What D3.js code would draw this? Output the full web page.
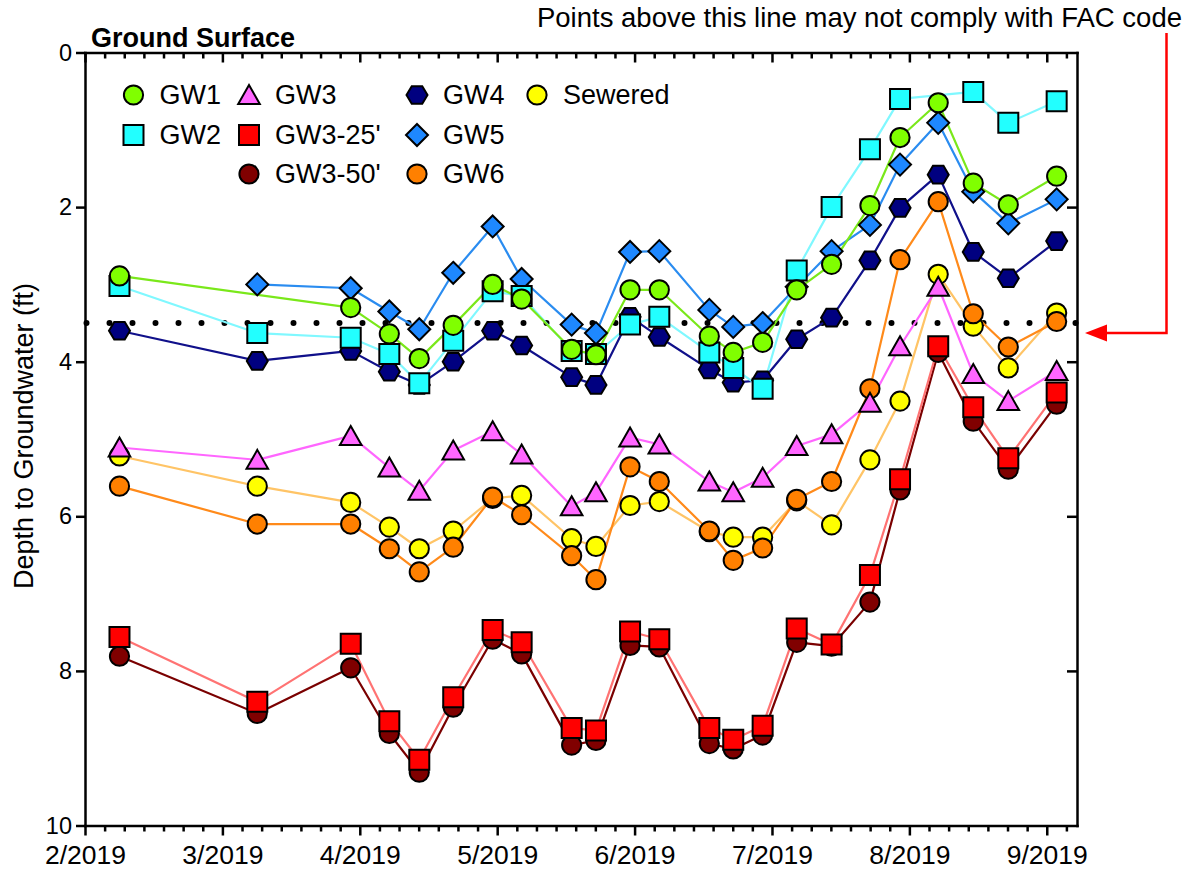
<!DOCTYPE html>
<html>
<head>
<meta charset="utf-8">
<script src="https://cdn.jsdelivr.net/npm/d3@7"></script>
<style>
  body { margin: 0; background: #fff; }
  text { font-family: "Liberation Sans", Arial, Helvetica, sans-serif; fill: #000; }
</style>
</head>
<body>
<svg id="chart" width="1194" height="869"></svg>
<script>
// ---- data -------------------------------------------------------------
// axis month labels (one major tick per label)
const monthLabels = ["2/2019", "3/2019", "4/2019", "5/2019", "6/2019", "7/2019", "8/2019", "9/2019"];
const depthTicks = [0, 2, 4, 6, 8, 10];

// sampling events, in months after the 2/2019 tick
const sampleMonths = [0.251, 1.254, 1.934, 2.215, 2.433, 2.680, 2.967, 3.178, 3.542, 3.719, 3.967,
                      4.180, 4.544, 4.718, 4.932, 5.180, 5.434, 5.713, 5.932, 6.210, 6.465, 6.720, 7.072];

// depth to groundwater (ft) per well, null = not measured
const gw1     = [2.89, null, 3.30, 3.64, 3.96, 3.53, 3.00, 3.19, 3.84, 3.91, 3.07, 3.07, 3.67, 3.88, 3.75, 3.07, 2.74, 1.98, 1.10, 0.65, 1.69, 1.97, 1.60];
const gw2     = [3.02, 3.63, 3.69, 3.90, 4.28, 3.73, 3.09, 3.15, 3.86, 3.90, 3.52, 3.42, 3.88, 4.08, 4.35, 2.82, 2.00, 1.25, 0.60, null, 0.51, 0.91, 0.63];
const gw3     = [5.11, 5.27, 4.96, 5.37, 5.67, 5.15, 4.90, 5.20, 5.87, 5.69, 4.98, 5.07, 5.55, 5.69, 5.50, 5.09, 4.94, 4.53, 3.80, 3.03, 4.16, 4.51, 4.12];
const gw3_25  = [7.56, 8.40, 7.65, 8.65, 9.15, 8.34, 7.47, 7.63, 8.74, 8.77, 7.49, 7.59, 8.74, 8.89, 8.71, 7.45, 7.66, 6.76, 5.52, 3.80, 4.59, 5.25, 4.40];
const gw3_50  = [7.81, 8.55, 7.96, 8.81, 9.31, 8.47, 7.59, 7.78, 8.96, 8.90, 7.67, 7.69, 8.94, 9.01, 8.83, 7.63, 7.68, 7.11, 5.66, 3.88, 4.77, 5.39, 4.55];
const gw4     = [3.60, 3.99, 3.86, 4.13, 4.30, 4.00, 3.60, 3.79, 4.20, 4.30, 3.42, 3.68, 4.10, 4.27, 4.24, 3.71, 3.43, 2.69, 2.01, 1.58, 2.58, 2.92, 2.44];
const gw5     = [null, 3.00, 3.05, 3.35, 3.58, 2.85, 2.25, 2.93, 3.52, 3.63, 2.58, 2.57, 3.33, 3.55, 3.50, 3.03, 2.57, 2.23, 1.45, 0.91, 1.80, 2.21, 1.90];
const gw6     = [5.61, 6.10, 6.10, 6.42, 6.72, 6.40, 5.75, 5.98, 6.51, 6.82, 5.36, 5.55, 6.19, 6.57, 6.41, 5.78, 5.55, 4.35, 2.68, 1.93, 3.38, 3.81, 3.48];
const sewered = [5.22, 5.61, 5.82, 6.14, 6.42, 6.19, 5.77, 5.73, 6.29, 6.39, 5.86, 5.81, 6.20, 6.27, 6.27, 5.80, 6.11, 5.27, 4.51, 2.87, 3.54, 4.08, 3.37];

// compliance threshold depth (ft)
const facThreshold = 3.5;

// ---- marker shapes (size = half extent in px) -------------------------
const shapes = {
  circle:   { draw(c, r) { c.moveTo(r, 0); c.arc(0, 0, r, 0, 2 * Math.PI); } },
  square:   { draw(c, r) { c.rect(-r, -r, 2 * r, 2 * r); } },
  triangle: { draw(c, r) { c.moveTo(0, -r); c.lineTo(r * 1.08, r * 0.9); c.lineTo(-r * 1.08, r * 0.9); c.closePath(); } },
  diamond:  { draw(c, r) { c.moveTo(0, -r); c.lineTo(r, 0); c.lineTo(0, r); c.lineTo(-r, 0); c.closePath(); } },
  hexagon:  { draw(c, r) {
    const h = r * 0.84;
    c.moveTo(r, 0); c.lineTo(r / 2, h); c.lineTo(-r / 2, h); c.lineTo(-r, 0); c.lineTo(-r / 2, -h); c.lineTo(r / 2, -h); c.closePath();
  } }
};

// series in drawing order (bottom first)
const series = [
  { name: "Sewered", values: sewered, fill: "#ffff00", line: "#ffc466", shape: "circle",   size: 9.6 },
  { name: "GW6",     values: gw6,     fill: "#ff8000", line: "#ff8a1a", shape: "circle",   size: 9.6 },
  { name: "GW3-50'", values: gw3_50,  fill: "#800000", line: "#7a0000", shape: "circle",   size: 9.6 },
  { name: "GW3-25'", values: gw3_25,  fill: "#ff0000", line: "#ff7373", shape: "square",   size: 10 },
  { name: "GW3",     values: gw3,     fill: "#ff66ff", line: "#ff66ff", shape: "triangle", size: 10 },
  { name: "GW4",     values: gw4,     fill: "#000080", line: "#10108a", shape: "hexagon",  size: 10.5 },
  { name: "GW5",     values: gw5,     fill: "#1e88ff", line: "#2a8cf0", shape: "diamond",  size: 11 },
  { name: "GW2",     values: gw2,     fill: "#22ffff", line: "#80f8ff", shape: "square",   size: 10 },
  { name: "GW1",     values: gw1,     fill: "#80ff00", line: "#7ae81a", shape: "circle",   size: 9.6 }
];

// legend grid: [series name, column, row]
const legendLayout = [
  ["GW1", 0, 0], ["GW2", 0, 1],
  ["GW3", 1, 0], ["GW3-25'", 1, 1], ["GW3-50'", 1, 2],
  ["GW4", 2, 0], ["GW5", 2, 1], ["GW6", 2, 2],
  ["Sewered", 3, 0]
];

// ---- layout -------------------------------------------------------------
const svg = d3.select("#chart");
const plotLeft = 85, plotRight = 1077, plotTop = 52.5, plotBottom = 825.5;
const xMax = 7.22;

const x = d3.scaleLinear().domain([0, xMax]).range([plotLeft, plotRight]);
const y = d3.scaleLinear().domain([0, 10]).range([plotTop, plotBottom]);

const majorX = d3.range(monthLabels.length);
const minorX = d3.range(0, xMax, 1 / 7).filter(v => Math.abs(v - Math.round(v)) > 1e-6);

function styleAxis(g, fontSize) {
  g.selectAll(".domain").attr("stroke", "#000").attr("stroke-width", 2.5).attr("stroke-linecap", "square");
  g.selectAll(".tick line").attr("stroke", "#000").attr("stroke-width", 2.5);
  g.selectAll(".tick text").attr("font-size", fontSize).attr("fill", "#000");
  g.attr("font-family", null);
}

// bottom axis: labelled months + minor ticks
const axisBottomG = svg.append("g").attr("transform", `translate(0,${plotBottom})`)
  .call(d3.axisBottom(x).tickValues(majorX).tickFormat(i => monthLabels[i]).tickSize(10).tickPadding(9.5).tickSizeOuter(0));
styleAxis(axisBottomG, 26.5);
const axisBottomMinorG = svg.append("g").attr("transform", `translate(0,${plotBottom})`)
  .call(d3.axisBottom(x).tickValues(minorX).tickFormat("").tickSize(6).tickSizeOuter(0));
axisBottomMinorG.select(".domain").remove();
styleAxis(axisBottomMinorG, 0);

// top frame with inward ticks
const axisTopG = svg.append("g").attr("transform", `translate(0,${plotTop})`)
  .call(d3.axisBottom(x).tickValues(majorX).tickFormat("").tickSize(10).tickSizeOuter(0));
styleAxis(axisTopG, 0);
const axisTopMinorG = svg.append("g").attr("transform", `translate(0,${plotTop})`)
  .call(d3.axisBottom(x).tickValues(minorX).tickFormat("").tickSize(6).tickSizeOuter(0));
axisTopMinorG.select(".domain").remove();
styleAxis(axisTopMinorG, 0);

// left depth axis
const axisLeftG = svg.append("g").attr("transform", `translate(${plotLeft},0)`)
  .call(d3.axisLeft(y).tickValues(depthTicks).tickFormat(d3.format("d")).tickSize(9).tickPadding(4).tickSizeOuter(0));
styleAxis(axisLeftG, 23.5);

// right frame with inward ticks
const axisRightG = svg.append("g").attr("transform", `translate(${plotRight},0)`)
  .call(d3.axisLeft(y).tickValues(depthTicks.slice(1, -1)).tickFormat("").tickSize(10).tickSizeOuter(0));
styleAxis(axisRightG, 0);

// axis title
svg.append("text")
  .attr("transform", `translate(33,${(plotTop + plotBottom) / 2 - 3}) rotate(-90)`)
  .attr("text-anchor", "middle")
  .attr("font-size", 27)
  .text("Depth to Groundwater (ft)");

svg.append("text")
  .attr("x", 91).attr("y", 46.5)
  .attr("font-size", 27).attr("font-weight", "bold")
  .text("Ground Surface");

// ---- threshold line ---------------------------------------------------
svg.append("line")
  .attr("x1", x(0) + 1.5).attr("x2", x(xMax))
  .attr("y1", y(facThreshold)).attr("y2", y(facThreshold))
  .attr("stroke", "#000").attr("stroke-width", 6)
  .attr("stroke-linecap", "round").attr("stroke-dasharray", "0 23");

// ---- series lines -----------------------------------------------------
const lineGen = d3.line()
  .x(d => x(d.t)).y(d => y(d.v));

const pointsOf = s => sampleMonths.map((t, i) => ({ t, v: s.values[i] })).filter(d => d.v != null);

svg.append("g").selectAll("path")
  .data(series)
  .join("path")
  .attr("d", s => lineGen(pointsOf(s)))
  .attr("fill", "none")
  .attr("stroke", s => s.line)
  .attr("stroke-width", 2.2)
  .attr("stroke-linejoin", "round");

// ---- markers ------------------------------------------------------------
const symbolPath = s => d3.symbol().type(shapes[s.shape]).size(s.size)();

series.forEach(s => {
  svg.append("g").selectAll("path")
    .data(pointsOf(s))
    .join("path")
    .attr("transform", d => `translate(${x(d.t)},${y(d.v)})`)
    .attr("d", symbolPath(s))
    .attr("fill", s.fill)
    .attr("stroke", "#000")
    .attr("stroke-width", 2);
});

// ---- legend -------------------------------------------------------------
const legendColX = [133.5, 249, 417, 537];
const legendRowY = [95, 135, 174];
const byName = new Map(series.map(s => [s.name, s]));

const legend = svg.append("g").selectAll("g")
  .data(legendLayout)
  .join("g")
  .attr("transform", d => `translate(${legendColX[d[1]]},${legendRowY[d[2]]})`);

legend.append("path")
  .attr("d", d => symbolPath(byName.get(d[0])))
  .attr("fill", d => byName.get(d[0]).fill)
  .attr("stroke", "#000").attr("stroke-width", 2);

legend.append("text")
  .attr("x", 26).attr("dy", "0.35em")
  .attr("font-size", 27)
  .text(d => d[0]);

// ---- compliance annotation ---------------------------------------------
svg.append("text")
  .attr("x", 1182).attr("y", 27)
  .attr("text-anchor", "end")
  .attr("font-size", 27.5)
  .text("Points above this line may not comply with FAC code");

const arrowX = 1166.5, arrowTop = 33, arrowY = y(facThreshold) + 10;
svg.append("path")
  .attr("d", d3.line()([[arrowX, arrowTop], [arrowX, arrowY], [plotRight + 28, arrowY]]))
  .attr("fill", "none").attr("stroke", "#ff0000").attr("stroke-width", 2.5);
svg.append("path")
  .attr("d", d3.line()([[plotRight + 8, arrowY], [plotRight + 30, arrowY - 8.5], [plotRight + 30, arrowY + 8.5]]) + "Z")
  .attr("fill", "#ff0000");
</script>
</body>
</html>
